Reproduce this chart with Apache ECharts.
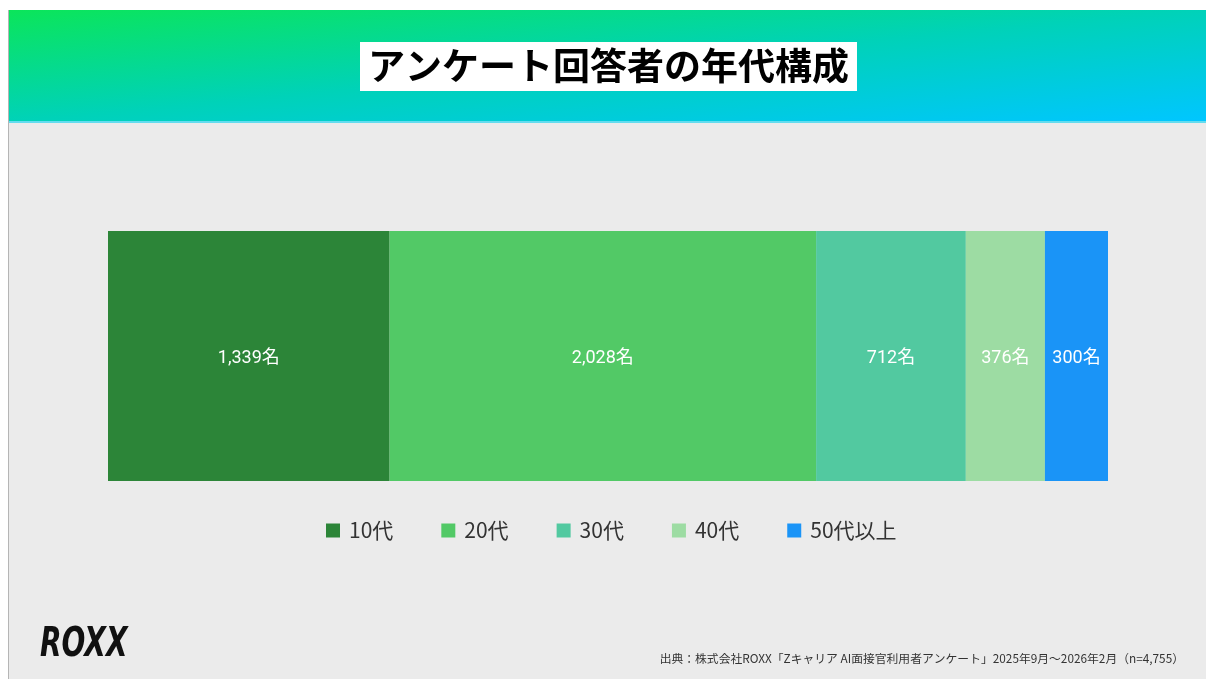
<!DOCTYPE html>
<html>
<head>
<meta charset="utf-8">
<script src="https://cdn.jsdelivr.net/npm/echarts@6/dist/echarts.min.js"></script>
<style>
  html, body { margin: 0; padding: 0; background: #fff; }
  #chart { width: 1206px; height: 679px; }
</style>
</head>
<body>
<div id="chart"></div>
<script>
// アンケート回答者の年代構成
var categories = ['回答者'];
var ageGroups = ['10代', '20代', '30代', '40代', '50代以上'];
var counts = [1339, 2028, 712, 376, 300];
var colors = ['#2c8538', '#52c966', '#52c9a0', '#9ddca3', '#1a94f7'];
var total = 4755;

var chart = echarts.init(document.getElementById('chart'));
var font = '"Noto Sans CJK JP", "Noto Sans", sans-serif';

var series = ageGroups.map(function (name, i) {
    return {
        name: name,
        type: 'bar',
        stack: 'all',
        barWidth: '100%',
        data: [counts[i]],
        itemStyle: { color: colors[i] },
        label: {
            show: true,
            position: 'inside',
            offset: [0, 2],
            color: '#fff',
            fontSize: 18,
            fontFamily: 'Roboto, "Noto Sans CJK JP", sans-serif',
            formatter: function (p) {
                return p.value.toLocaleString('en-US') + '名';
            }
        }
    };
});

chart.setOption({
    animation: false,
    textStyle: { fontFamily: font },
    graphic: [
        { type: 'rect', z: -10, shape: { x: 8, y: 122, width: 1198, height: 557 }, style: { fill: '#ebebeb' } },
        {
            // 斜めのグラデーション (左上: 緑 → 右下: 水色)
            type: 'rect', z: -10,
            shape: { x: 8, y: 10, width: 1198, height: 112 },
            style: {
                fill: new echarts.graphic.LinearGradient(8, 10, 29, 232, [
                    { offset: 0, color: '#0be55a' },
                    { offset: 0.5, color: '#00d2b8' },
                    { offset: 1, color: '#00c6ff' }
                ], true)
            }
        },
        { type: 'rect', z: -9, shape: { x: 8, y: 121, width: 1198, height: 2 }, style: { fill: '#63dcef' } },
        { type: 'rect', z: -9, shape: { x: 8, y: 10, width: 1, height: 669 }, style: { fill: '#b5b5b5' } },
        {
            type: 'text', x: 40, y: 626, scaleX: 0.7,
            style: {
                text: 'ROXX', fill: '#111',
                font: 'italic bold 40px "DejaVu Sans", sans-serif'
            }
        },
        {
            type: 'text', right: 22, top: 653,
            style: {
                text: '出典：株式会社ROXX「Zキャリア AI面接官利用者アンケート」2025年9月〜2026年2月（n=4,755）',
                fill: '#333',
                font: '11.8px ' + font
            }
        }
    ],
    title: {
        text: 'アンケート回答者の年代構成',
        left: 360,
        top: 42,
        padding: [5, 8, 7, 8],
        backgroundColor: '#fff',
        textStyle: { fontSize: 37, fontWeight: 'bold', color: '#000', fontFamily: font }
    },
    legend: {
        data: ageGroups,
        top: 515,
        left: 321,
        icon: 'rect',
        itemWidth: 14,
        itemHeight: 14,
        itemGap: 48,
        textStyle: { fontSize: 21, color: '#333', fontFamily: font, padding: [0, 0, 0, 4] }
    },
    grid: { left: 108, right: 98, top: 231, height: 250 },
    xAxis: { type: 'value', min: 0, max: total, show: false },
    yAxis: { type: 'category', data: categories, show: false },
    series: series
});
</script>
</body>
</html>
